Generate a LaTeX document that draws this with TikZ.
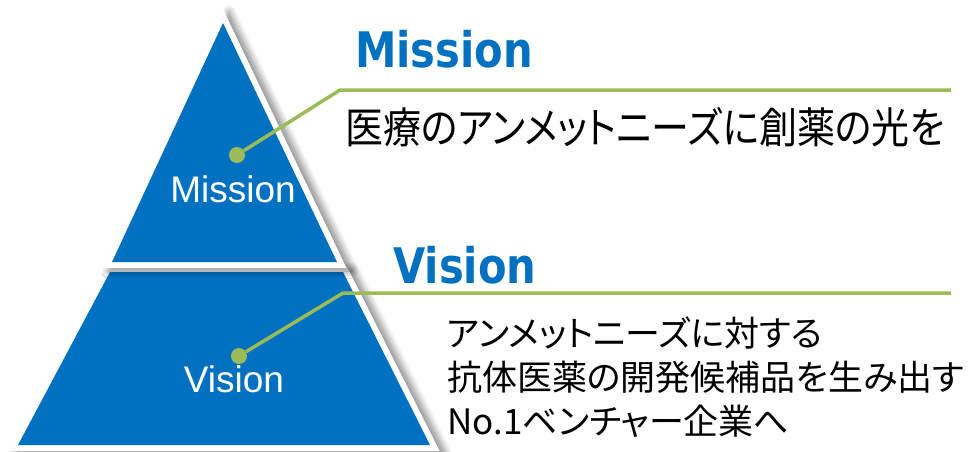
\documentclass[tikz,border=0pt]{standalone}
\usepackage{graphicx}
\usepackage{fontspec}
\setmainfont{Liberation Sans}
\newfontfamily\jpfont[RawFeature=+palt]{Noto Sans CJK JP}
\newfontfamily\headfont{DejaVu Sans}
\usetikzlibrary{shadows.blur}
\definecolor{pyblue}{HTML}{0070C0}
\definecolor{pygreen}{HTML}{9BBB59}
\begin{document}
\begin{tikzpicture}[x=1pt,y=-1pt,
  tri/.style={fill=pyblue},
  rim/.style={fill=white, blur shadow={shadow xshift=6pt, shadow yshift=-3pt, shadow blur radius=7pt, shadow opacity=50, shadow blur steps=12}},
  leader/.style={draw=pygreen, line width=3.5pt},
  dot/.style={circle, fill=pygreen, inner sep=0pt, minimum size=16pt},
  lbl/.style={anchor=base, inner sep=0pt, text=white, font=\fontsize{37}{37}\selectfont},
  head/.style={anchor=base west, inner sep=0pt, text=pyblue, font=\headfont\bfseries\fontsize{49}{49}\selectfont},
  jp/.style={anchor=base west, inner sep=0pt, align=left}]
\useasboundingbox (0,0) rectangle (980,452);
% lower trapezoid
\path[rim] (106.4,266) -- (346.7,266) -- (439.7,451) -- (8,451) -- cycle;
\path[tri] (110,272) -- (343,272) -- (430,445) -- (18,445) -- cycle;
% upper triangle
\path[rim] (222.9,8.9) -- (346.5,268) -- (102.6,268) -- cycle;
\path[tri] (223,23) -- (337,262) -- (112,262) -- cycle;
% labels in pyramid
\node[lbl] (mlabel) at (233,202) {Mission};
\node[lbl] (vlabel) at (234,392) {Vision};
% headings
\node[head] (mhead) at (355,68) {\scalebox{0.85}[1]{Mission}};
\node[head] (vhead) at (393,283) {\scalebox{0.85}[1]{Vision}};
% texts
\node[jp] (mtext) at (345,143) {\scalebox{1}[1.12]{\jpfont\fontsize{38}{38}\selectfont 医療のアンメットニーズに創薬の光を}};
\node[jp, font=\jpfont\fontsize{35}{44}\selectfont] (vtext) at (447,434) {アンメットニーズに対する\\抗体医薬の開発候補品を生み出す\\No.1ベンチャー企業へ};
% leaders
\node[dot] (mdot) at (237,155) {};
\coordinate (mcorner) at (340,90);
\coordinate (mend) at (951,90);
\draw[leader] (mdot) -- (mcorner) -- (mend);
\node[dot] (vdot) at (239,356) {};
\coordinate (vcorner) at (343,293);
\coordinate (vend) at (951,293);
\draw[leader] (vdot) -- (vcorner) -- (vend);
\end{tikzpicture}
\end{document}
